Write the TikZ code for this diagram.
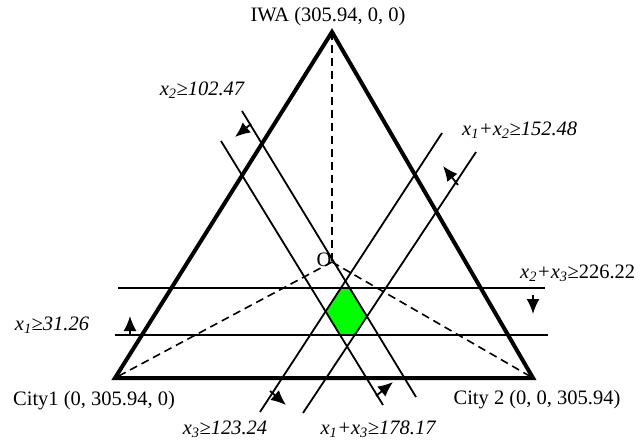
\documentclass[tikz,border=0pt]{standalone}
\usepackage{fontspec}
\setmainfont{Liberation Serif}
\usetikzlibrary{arrows.meta}
\begin{document}
\begin{tikzpicture}[x=1pt,y=-1pt,
  tri/.style={line width=4pt,line join=miter},
  cline/.style={line width=1.8pt},
  dline/.style={line width=1.6pt,dash pattern=on 8pt off 5pt},
  dirarrow/.style={line width=1.8pt,-{Latex[length=15pt,width=13pt]}},
  lab/.style={font=\fontsize{20.5}{24}\selectfont,inner sep=0pt},
  ilab/.style={inner sep=0pt,font=\fontsize{20.5}{24}\selectfont\itshape}]
\useasboundingbox (0,0) rectangle (642,446);
% triangle corners and centre
\coordinate (apex) at (332,32);
\coordinate (BL) at (115,378);
\coordinate (BR) at (533,378);
\coordinate (O) at (332,262);
% constraint lines
\coordinate (A1) at (242,111); \coordinate (A2) at (416,397);
\coordinate (B1) at (221,141); \coordinate (B2) at (383,405);
\coordinate (C1) at (442,133); \coordinate (C2) at (260,412);
\coordinate (D1) at (476,152); \coordinate (D2) at (303,413);
\coordinate (H1a) at (118,288); \coordinate (H1b) at (545,288);
\coordinate (H2a) at (115,335); \coordinate (H2b) at (548,335);
% feasible region
\coordinate (P1) at (intersection of H1a--H1b and C1--C2);
\coordinate (P2) at (intersection of H1a--H1b and A1--A2);
\coordinate (P3) at (intersection of A1--A2 and D1--D2);
\coordinate (P4) at (intersection of D1--D2 and H2a--H2b);
\coordinate (P5) at (intersection of H2a--H2b and B1--B2);
\coordinate (P6) at (intersection of B1--B2 and C1--C2);
\fill[green] (P1) -- (P2) -- (P3) -- (P4) -- (P5) -- (P6) -- cycle;
% dashed
\draw[dline] (apex) -- (O);
\draw[dline] (O) -- (BL);
\draw[dline] (O) -- (BR);
% lines
\draw[cline] (A1) -- (A2);
\draw[cline] (B1) -- (B2);
\draw[cline] (C1) -- (C2);
\draw[cline] (D1) -- (D2);
\draw[cline] (H1a) -- (H1b);
\draw[cline] (H2a) -- (H2b);
% triangle
\draw[tri] (apex) -- (BL) -- (BR) -- cycle;
% direction arrows
\coordinate (a1s) at (130,335); \coordinate (a1e) at (130,316);
\coordinate (a2s) at (533,295); \coordinate (a2e) at (533,314);
\coordinate (a3s) at (251,124); \coordinate (a3e) at (235,137);
\coordinate (a4s) at (376,396); \coordinate (a4e) at (393,382);
\coordinate (a5s) at (270,391); \coordinate (a5e) at (286,405);
\coordinate (a6s) at (458,185); \coordinate (a6e) at (443,166);
\draw[dirarrow] (a1s) -- (a1e);
\draw[dirarrow] (a2s) -- (a2e);
\draw[dirarrow] (a3s) -- (a3e);
\draw[dirarrow] (a4s) -- (a4e);
\draw[dirarrow] (a5s) -- (a5e);
\draw[dirarrow] (a6s) -- (a6e);
% labels
\node[lab] (iwa) at (328,17) {IWA (305.94, 0, 0)};
\node[lab] (city1) at (94,401) {City1 (0, 305.94, 0)};
\node[lab] (city2) at (537,400) {City 2 (0, 0, 305.94)};
\node[lab] (olab) at (324,260) {O};
\node[ilab] (l1) at (202,90) {x\textsubscript{2}≥102.47};
\node[ilab,anchor=west] (l2) at (462,130) {x\textsubscript{1}+x\textsubscript{2}≥152.48};
\node[ilab,anchor=west] (l3) at (520,273) {x\textsubscript{2}+x\textsubscript{3}\upshape≥226.22};
\node[ilab] (l4) at (52,325) {x\textsubscript{1}≥31.26};
\node[ilab] (l5) at (225,429) {x\textsubscript{3}≥123.24};
\node[ilab] (l6) at (378,429) {x\textsubscript{1}+x\textsubscript{3}≥178.17};
\end{tikzpicture}
\end{document}
